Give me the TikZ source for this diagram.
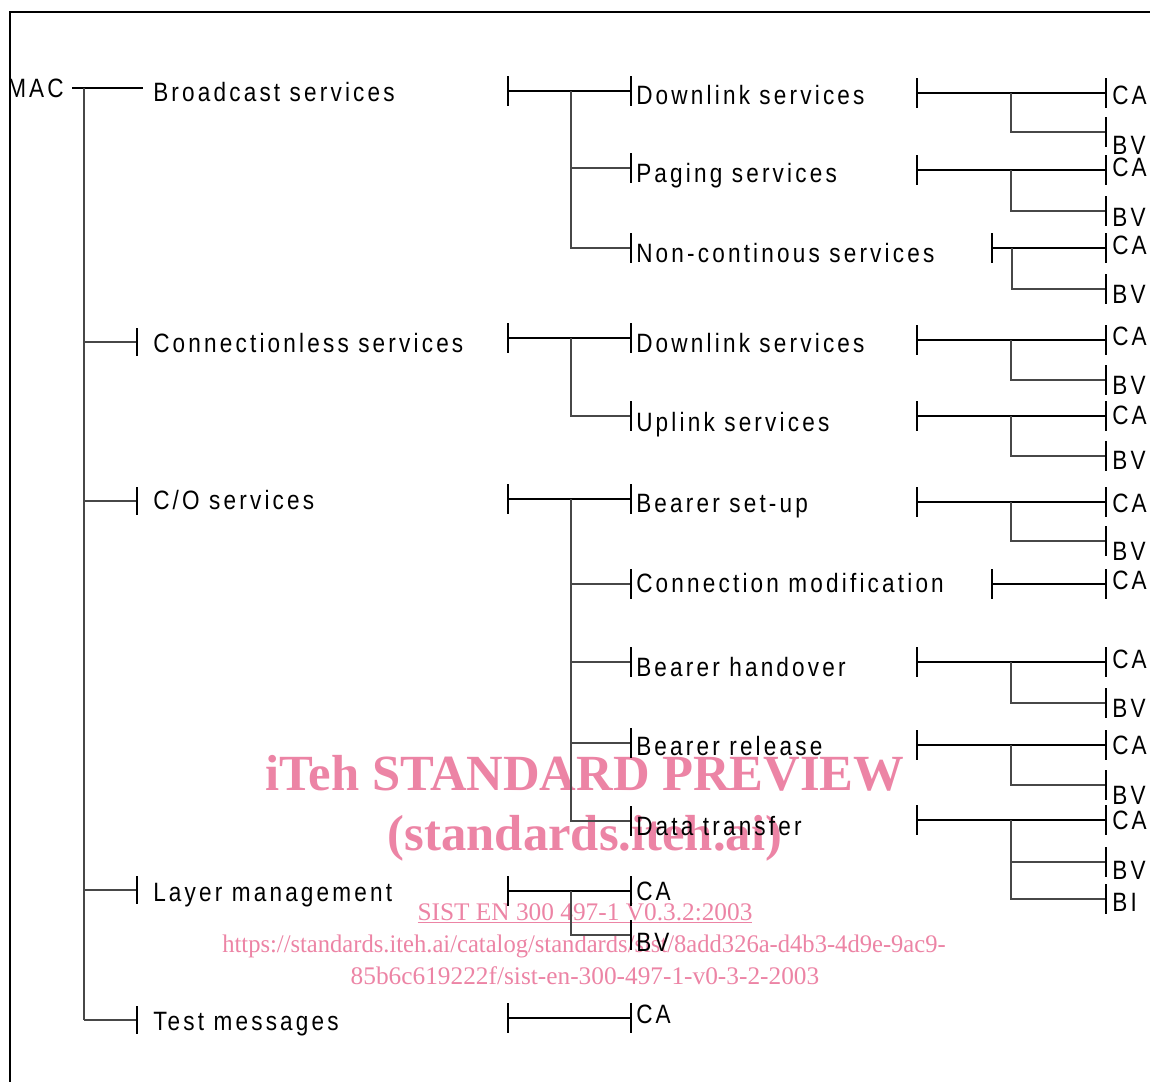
\documentclass[tikz,border=0pt]{standalone}
\usepackage{fontspec}
\newfontfamily\diagfont{Liberation Sans}[FakeStretch=0.85,LetterSpace=12]
\newfontfamily\wmfont{Liberation Serif}
\definecolor{wmpink}{RGB}{236,132,165}
\newcommand\tk[2]{\draw[tick] (#1,#2-15) -- (#1,#2+15);}
% left group: thick line 508->631 with ticks
\newcommand\Lgroup[2]{%
  \coordinate (#1a) at (508,#2); \coordinate (#1b) at (631,#2);
  \draw[thk] (#1a) -- (#1b); \tk{508}{#2}\tk{631}{#2}}
% child branch from vertical at 571
\newcommand\Lchild[3]{%
  \coordinate (#1c) at (571,#2); \coordinate (#1d) at (631,#3);
  \draw[thn] (#1c) |- (#1d); \tk{631}{#3}}
% right group with CA and BV
\newcommand\RGtwo[4]{%
  \coordinate (#1l) at (#2,#3); \coordinate (#1r) at (1106,#3);
  \coordinate (#1j) at (1011,#3); \coordinate (#1b) at (1106,#4);
  \draw[thk] (#1l) -- (#1r);
  \draw[thn] (#1j) |- (#1b);
  \tk{#2}{#3}\tk{1106}{#3}\tk{1106}{#4}}
\newcommand\RGone[3]{%
  \coordinate (#1l) at (#2,#3); \coordinate (#1r) at (1106,#3);
  \draw[thk] (#1l) -- (#1r);
  \tk{#2}{#3}\tk{1106}{#3}}
\begin{document}
\begin{tikzpicture}[x=0.75pt,y=-0.75pt,
  lbl/.style={anchor=base west,inner sep=0pt,font=\diagfont\fontsize{19.9}{24}\selectfont},
  thk/.style={line width=1.6pt,black},
  thn/.style={line width=1.05pt,black!72},
  tick/.style={line width=1.9pt,black},
  wm/.style={text=wmpink,inner sep=0pt,anchor=base}]
\useasboundingbox (0,0) rectangle (1150,1082);
\coordinate (fa) at (1150,12); \coordinate (fb) at (10,12); \coordinate (fc) at (10,1082);
\draw[line width=0.8pt] (fa) -- (fb) -- (fc);

% watermark (under the diagram)
\node[wm,font=\wmfont\bfseries\fontsize{38}{40}\selectfont] (w1) at (585,790) {iTeh STANDARD PREVIEW};
\node[wm,font=\wmfont\bfseries\fontsize{38}{40}\selectfont] (w2) at (585,850) {(standards.iteh.ai)};
\node[wm,font=\wmfont\fontsize{19}{20}\selectfont] (w3) at (585,920) {\underline{SIST EN 300 497-1 V0.3.2:2003}};
\node[wm,font=\wmfont\fontsize{19}{20}\selectfont] (w4) at (584,952) {\scalebox{0.97}[1]{https://standards.iteh.ai/catalog/standards/sist/8add326a-d4b3-4d9e-9ac9-}};
\node[wm,font=\wmfont\fontsize{19}{20}\selectfont] (w5) at (585,984) {85b6c619222f/sist-en-300-497-1-v0-3-2-2003};

% root
\node[lbl] (mac) at (7,97) {MAC};
\coordinate (m0) at (72,88); \coordinate (m1) at (143,88);
\draw[thk] (m0) -- (m1);
\coordinate (t0) at (84,88); \coordinate (t1) at (84,1020);
\draw[thn] (t0) -- (t1);
\foreach \yy/\nm in {342/c1,501/c2,890/c3,1020/c4}{
  \coordinate (\nm s) at (84,\yy); \coordinate (\nm e) at (137,\yy);
  \draw[thn] (\nm s) -- (\nm e);
  \draw[tick] (137,\yy-14) -- (137,\yy+14);
}

% level 1 labels
\node[lbl] (bs) at (153,101) {Broadcast services};
\node[lbl] (cls) at (153,352) {Connectionless services};
\node[lbl] (cos) at (153,509) {C/O services};
\node[lbl] (lm) at (153,901) {Layer management};
\node[lbl] (tm) at (153,1030) {Test messages};

% broadcast group
\Lgroup{ga}{91}
\Lchild{gb}{91}{168}
\Lchild{gc}{168}{248}
\node[lbl] (bdl) at (636,104) {Downlink services};
\node[lbl] (bpg) at (636,182) {Paging services};
\node[lbl] (bnc) at (636,262) {Non-continous services};

% connectionless group
\Lgroup{gd}{338}
\Lchild{ge}{338}{416}
\node[lbl] (cdl) at (636,352) {Downlink services};
\node[lbl] (cul) at (636,431) {Uplink services};

% C/O group
\Lgroup{gf}{499}
\Lchild{gg}{499}{584}
\Lchild{gh}{584}{662}
\Lchild{gi}{662}{743}
\Lchild{gj}{743}{821}
\node[lbl] (obs) at (636,512) {Bearer set-up};
\node[lbl] (ocm) at (636,592) {Connection modification};
\node[lbl] (obh) at (636,676) {Bearer handover};
\node[lbl] (obr) at (636,755) {Bearer release};
\node[lbl] (odt) at (636,835) {Data transfer};

% layer management
\Lgroup{gk}{891}
\Lchild{gl}{891}{935}
\node[lbl] (lca) at (636,900) {CA};
\node[lbl] (lbv) at (636,951) {BV};

% test messages
\Lgroup{gm}{1018}
\node[lbl] (tca) at (636,1023) {CA};

% right groups
\RGtwo{ra}{917}{93}{132}
\RGtwo{rb}{917}{170}{211}
\coordinate (rcl) at (992,248); \coordinate (rcr) at (1106,248);
\coordinate (rcj) at (1012,248); \coordinate (rcb) at (1106,289);
\draw[thk] (rcl) -- (rcr); \draw[thn] (rcj) |- (rcb);
\tk{992}{248}\tk{1106}{248}\tk{1106}{289}
\RGtwo{rd}{917}{340}{380}
\RGtwo{re}{917}{416}{456}
\RGtwo{rf}{917}{502}{541}
\RGone{rg}{992}{584}
\RGtwo{rh}{917}{662}{703}
\RGtwo{ri}{917}{745}{785}
\RGtwo{rj}{917}{820}{862}
\coordinate (rk) at (1011,862); \coordinate (rkb) at (1106,899);
\draw[thn] (rk) |- (rkb); \tk{1106}{899}

% right labels
\foreach \yy/\tx/\nm in {104/CA/a1,154/BV/a2,176/CA/b1,226/BV/b2,254/CA/c1,303/BV/c2,
  345/CA/d1,394/BV/d2,424/CA/e1,469/BV/e2,512/CA/f1,560/BV/f2,589/CA/g1,
  668/CA/h1,717/BV/h2,754/CA/i1,804/BV/i2,829/CA/j1,879/BV/j2,911/BI/j3}{
  \node[lbl] (x\nm) at (1112,\yy) {\tx};
}
\end{tikzpicture}
\end{document}
